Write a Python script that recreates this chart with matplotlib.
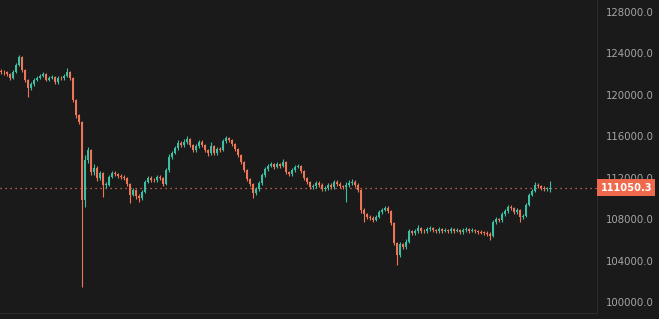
import numpy as np
import matplotlib
matplotlib.use("Agg")
import matplotlib.pyplot as plt

# ---- data ----
first_open = 122300
closes = [
    122250, 122180, 122020, 121630, 122210, 122890, 123660, 122400, 121440, 120670,
    121050, 121440, 121630, 121820, 122020, 121440, 121630, 121730, 121250, 121630,
    121600, 121820, 122210, 121630, 119510, 118060, 117390, 109860, 113720, 114680,
    112560, 112950, 111980, 112460, 111310, 111350, 112080, 112460, 112370, 112170,
    112080, 111980, 111400, 110340, 110820, 110240, 110050, 110630, 111600, 111980,
    111790, 111750, 112080, 111980, 111400, 112750, 114010, 114390, 114880, 115360,
    115170, 115460, 115740, 115170, 114680, 115070, 115460, 115170, 114680, 114390,
    115070, 114390, 114780, 114680, 115550, 115840, 115650, 115260, 114780, 114200,
    113530, 112750, 111880, 111400, 110530, 110920, 111500, 112270, 112850, 113140,
    113330, 113040, 113330, 113140, 113530, 112560, 112370, 112750, 113040, 113140,
    112660, 111980, 111600, 111110, 111210, 111500, 111310, 110920, 111020, 111310,
    111110, 111600, 111400, 111210, 111110, 111310, 111500, 111600, 111310, 110820,
    108890, 108510, 108220, 108120, 107930, 108220, 108700, 108890, 109090, 108800,
    107640, 105710, 104550, 105610, 105320, 105810, 106870, 106670, 106870, 107160,
    106870, 106820, 107060, 107160, 106960, 106870, 107060, 106870, 106960, 106870,
    107060, 106870, 106960, 106770, 106960, 107060, 106870, 106960, 106870, 106770,
    106720, 106670, 106600, 106380, 107740, 108020, 107900, 108510, 108800, 109180,
    109090, 108700, 108890, 108220, 108310, 109380, 110340, 110730, 111310, 111210,
    111020, 110920, 110950, 111050.3,
]
highs = [
    122500, 122400, 122350, 122150, 122400, 123050, 123850, 123750, 122500, 121550,
    121250, 121600, 121800, 122000, 122200, 122150, 121850, 121950, 121850, 121800,
    121850, 122000, 122600, 122300, 121700, 119650, 118200, 117500, 114200, 115000,
    114800, 113300, 113100, 112700, 112600, 111600, 112300, 112700, 112650, 112500,
    112350, 112250, 112100, 111500, 111050, 110950, 110400, 110850, 111800, 112200,
    112150, 112000, 112300, 112250, 112100, 112950, 114250, 114600, 115100, 115600,
    115550, 115700, 116000, 115850, 115300, 115300, 115650, 115600, 115300, 114800,
    115450, 115200, 115000, 114950, 115750, 116050, 115950, 115750, 115350, 114900,
    114300, 113650, 112850, 112000, 111500, 111150, 111700, 112450, 113050, 113350,
    113550, 113450, 113550, 113450, 113800, 113650, 112700, 112950, 113250, 113350,
    113250, 112750, 112100, 111700, 111400, 111700, 111650, 111450, 111250, 111500,
    111450, 111800, 111750, 111550, 111350, 111550, 111750, 111850, 111750, 111450,
    110950, 109050, 108650, 108400, 108300, 108400, 108900, 109100, 109300, 109250,
    108900, 107750, 105850, 105850, 105750, 106050, 107100, 107000, 107100, 107400,
    107300, 107050, 107250, 107350, 107300, 107100, 107250, 107200, 107150, 107100,
    107250, 107200, 107150, 107100, 107150, 107250, 107200, 107150, 107100, 107000,
    106950, 106900, 106850, 106750, 107950, 108250, 108150, 108700, 109000, 109400,
    109350, 109200, 109100, 109000, 108500, 109600, 110550, 110950, 111600, 111500,
    111350, 111200, 111150, 111650,
]
lows = [
    122050, 121950, 121800, 121400, 121500, 122100, 122800, 122250, 121250, 119800,
    120500, 120900, 121300, 121500, 121700, 121300, 121300, 121500, 121050, 121100,
    121450, 121450, 121700, 121450, 119300, 117800, 117150, 101460, 109200, 113400,
    112300, 112300, 111700, 111800, 110150, 111050, 111200, 111950, 112200, 111950,
    111900, 111800, 111200, 109560, 110200, 110000, 109650, 109900, 110500, 111450,
    111600, 111550, 111600, 111800, 111200, 111300, 112600, 113850, 114250, 114700,
    114950, 115000, 115300, 115000, 114500, 114500, 114900, 115000, 114500, 114100,
    114200, 114200, 114200, 114500, 114550, 115400, 115500, 115100, 114600, 114000,
    113350, 112550, 111650, 111200, 110050, 110350, 110750, 111350, 112100, 112700,
    113000, 112850, 112900, 112950, 113000, 112400, 112150, 112200, 112600, 112900,
    112450, 111800, 111400, 110900, 110950, 111050, 111100, 110700, 110750, 110850,
    110900, 110950, 111200, 111000, 110900, 109660, 111150, 111350, 111100, 110600,
    108650, 107730, 108000, 107900, 107750, 107800, 108100, 108550, 108750, 108600,
    107450, 105500, 103590, 104400, 105100, 105150, 105700, 106450, 106500, 106700,
    106700, 106650, 106650, 106900, 106800, 106700, 106700, 106700, 106750, 106700,
    106700, 106700, 106750, 106600, 106600, 106800, 106700, 106750, 106700, 106600,
    106550, 106500, 106400, 105990, 106250, 107550, 107700, 107750, 108350, 108650,
    108900, 108500, 108550, 107730, 108050, 108200, 109250, 110200, 110600, 111000,
    110800, 110700, 110750, 110650,
]
last_price = 111050.3
tick_values = [100000, 104000, 108000, 112000, 116000, 120000, 124000, 128000]

# ---- style ----
BG = "#1a1a1a"
UP = "#3dbfa6"
DN = "#ee7656"
GRID_LINE = "#2c2c2c"
TXT = "#a6a6a6"

W, H = 659, 319
fig = plt.figure(figsize=(W / 100, H / 100), dpi=100, facecolor=BG)
ax = fig.add_axes([0, 1 - 313 / H, 597 / W, 313 / H])
ax.set_facecolor(BG)

c = np.array(closes, dtype=float)
o = np.concatenate([[first_open], c[:-1]])
h = np.array(highs, dtype=float)
l = np.array(lows, dtype=float)
idx = np.arange(len(c))
up = c >= o
colors = np.where(up, UP, DN)

ax.vlines(idx, l, h, colors=colors, linewidth=0.8, zorder=2)
bottom = np.minimum(o, c)
height = np.maximum(np.abs(c - o), 60)
ax.bar(idx, height, bottom=bottom, width=0.62, color=colors, linewidth=0, zorder=3)

ax.axhline(last_price, color=DN, linewidth=0.9, linestyle=(0, (1, 3)), zorder=1)

ax.set_xlim(-0.33, 198.67)
ax.set_ylim(98953, 129158)
ax.set_xticks([])
ax.yaxis.tick_right()
ax.set_yticks(tick_values)
ax.set_yticklabels([f"{v:.1f}" for v in tick_values])
ax.tick_params(axis="y", length=0, pad=6.5, colors=TXT, labelsize=7.3)
for lab in ax.get_yticklabels():
    lab.set_color(TXT)
for s in ["top", "left"]:
    ax.spines[s].set_visible(False)
ax.spines["right"].set_color(GRID_LINE)
ax.spines["bottom"].set_color(GRID_LINE)
ax.spines["right"].set_linewidth(0.8)
ax.spines["bottom"].set_linewidth(0.8)

# last price label
ax.annotate(f"{last_price:.1f}", xy=(1.0, last_price), xycoords=("axes fraction", "data"),
            xytext=(2.5, 0), textcoords="offset points", ha="left", va="center",
            color="white", fontsize=7.1, fontweight="bold",
            bbox=dict(boxstyle="square,pad=0.32", fc="#ef6a4c", ec="none"),
            annotation_clip=False, zorder=5)

fig.savefig("out.png", dpi=100, facecolor=BG)
